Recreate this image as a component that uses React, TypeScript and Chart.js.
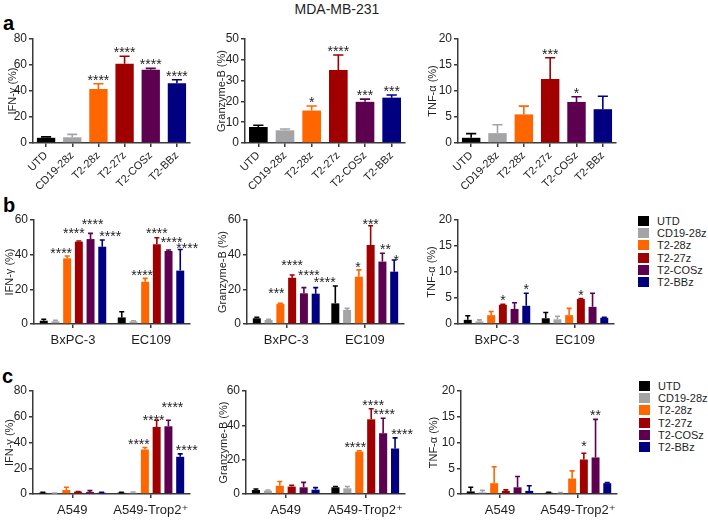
import React, { useEffect, useRef } from 'react';
import { Chart, registerables } from 'chart.js';

Chart.register(...registerables);

const FONT = '"Liberation Sans", Arial, Helvetica, "DejaVu Sans", sans-serif';
const INK = '#1e1e1e';
const AXIS = '#3a3a3a';

// ---------- shared series ----------
const SERIES = ['UTD', 'CD19-28z', 'T2-28z', 'T2-27z', 'T2-COSz', 'T2-BBz'];
const COLORS = ['#000000', '#a4a4a6', '#ff6600', '#a10000', '#5e0050', '#000080'];

// ---------- panel a (MDA-MB-231), one value per series ----------
const A_IFN_MEAN = [4.0, 4.4, 41.5, 61.0, 56.4, 46.0];
const A_IFN_SD = [0.7, 2.2, 4.1, 5.7, 1.0, 2.7];
const A_IFN_STARS = ['', '', '****', '****', '****', '****'];

const A_GZB_MEAN = [7.7, 6.1, 15.6, 35.1, 19.8, 21.8];
const A_GZB_SD = [0.8, 0.6, 2.2, 7.2, 1.3, 1.3];
const A_GZB_STARS = ['', '', '*', '****', '***', '***'];

const A_TNF_MEAN = [1.0, 1.9, 5.5, 12.3, 7.9, 6.5];
const A_TNF_SD = [0.8, 1.6, 1.6, 4.1, 1.0, 2.5];
const A_TNF_STARS = ['', '', '', '***', '*', ''];

// ---------- panel b: groups BxPC-3 / EC109, rows = series ----------
const B_GROUPS = ['BxPC-3', 'EC109'];

const B_IFN_MEAN = [[1.9, 3.8], [1.5, 1.5], [37.9, 24.4], [47.5, 46.0], [49.0, 42.1], [44.6, 30.8]];
const B_IFN_SD = [[0.8, 3.3], [0.6, 0.4], [1.3, 1.9], [0.4, 3.8], [3.3, 0.6], [3.9, 12.2]];
const B_IFN_STARS = [['', ''], ['', ''], ['****', '****'], ['****', '****'], ['****', '****'], ['****', '****']];

const B_GZB_MEAN = [[3.3, 11.9], [2.3, 8.1], [11.5, 27.3], [26.7, 45.6], [17.7, 36.0], [17.5, 30.2]];
const B_GZB_SD = [[0.5, 10.0], [0.4, 0.9], [0.4, 3.9], [1.6, 11.1], [3.3, 4.8], [3.5, 6.7]];
const B_GZB_STARS = [['', ''], ['', ''], ['***', '*'], ['****', '***'], ['****', '**'], ['****', '*']];

const B_TNF_MEAN = [[0.8, 1.1], [0.5, 0.9], [1.7, 1.7], [3.7, 4.8], [2.9, 3.3], [3.5, 1.2]];
const B_TNF_SD = [[0.8, 1.1], [0.3, 0.6], [0.7, 1.3], [0.1, 0.1], [1.2, 2.6], [2.4, 0.1]];
const B_TNF_STARS = [['', ''], ['', ''], ['', ''], ['*', '*'], ['', ''], ['*', '']];

// ---------- panel c: groups A549 / A549-Trop2+ ----------
const C_GROUPS = ['A549', 'A549-Trop2\u207A'];

const C_IFN_MEAN = [[1.0, 1.0], [0.5, 1.0], [3.1, 34.6], [1.8, 52.1], [1.5, 52.6], [1.0, 28.9]];
const C_IFN_SD = [[0.3, 0.3], [0.3, 0.5], [2.1, 1.5], [0.2, 5.2], [1.1, 4.7], [0.3, 2.3]];
const C_IFN_STARS = [['', ''], ['', ''], ['', '****'], ['', '****'], ['', '****'], ['', '****']];

const C_GZB_MEAN = [[2.3, 3.9], [1.9, 3.3], [4.8, 24.6], [4.3, 43.5], [3.9, 35.4], [2.5, 26.5]];
const C_GZB_SD = [[0.6, 0.5], [0.4, 1.1], [2.5, 0.5], [0.7, 6.2], [2.9, 8.7], [1.2, 6.2]];
const C_GZB_STARS = [['', ''], ['', ''], ['', '****'], ['', '****'], ['', '****'], ['', '****']];

const C_TNF_MEAN = [[0.5, 0.25], [0.3, 0.2], [2.1, 3.0], [0.6, 6.7], [1.3, 7.1], [0.6, 2.1]];
const C_TNF_SD = [[0.8, 0.1], [0.4, 0.1], [3.2, 1.5], [0.2, 1.2], [2.1, 7.4], [1.0, 0.1]];
const C_TNF_STARS = [['', ''], ['', ''], ['', ''], ['', '*'], ['', '**'], ['', '']];

// ---------- layout: pixel nudges for crowded significance labels [dx, dy] ----------
type Nudge = [number, number][][];
const Z: [number, number] = [0, 0];
const NUDGE_B_IFN: Nudge = [[Z, Z], [Z, Z], [[-6, 1], [-3, 1]], [[-5, -4], [0, -1]], [[2, -5], [3, -4]], [[8, 0], [7, 2.5]]];
const NUDGE_B_GZB: Nudge = [[Z, Z], [Z, Z], [[-4, -6], [-1, 1]], [[0, -6], [0, 2]], [[5, -9], [3, 0]], [[9, -1.5], [2, 3.5]]];
const NUDGE_C_IFN: Nudge = [[Z, Z], [Z, Z], [Z, [-6, 0]], [Z, [-3, 3.5]], [Z, [4, -9]], [Z, [6.5, 0]]];
const NUDGE_C_GZB: Nudge = [[Z, Z], [Z, Z], [Z, [-4, 0]], [Z, [2, 0]], [Z, [1, 0]], [Z, [7, 0]]];
const NUDGE_C_TNF: Nudge = [[Z, Z], [Z, Z], [Z, Z], [Z, [0, -3]], [Z, Z], [Z, Z]];

type Box = { x: number; y: number; w: number; h: number };
type Plot = { left: number; top: number; right: number; bottom: number };

type PanelProps = {
  box: Box;
  plot: Plot;
  titleCenter: number;
  yTitle: string;
  yMax: number;
  yStep: number;
  labels: string[];
  means: number[][];
  sds: number[][];
  stars: string[][];
  perCategoryColors: boolean;
  nudge?: Nudge;
};

function BarPanel(p: PanelProps) {
  const ref = useRef<HTMLCanvasElement | null>(null);
  useEffect(() => {
    if (!ref.current) return;
    const { box, plot } = p;
    const yWidth = plot.left - box.x;
    const xHeight = box.y + box.h - plot.bottom;
    const padTop = plot.top - box.y;
    const padRight = box.x + box.w - plot.right;
    const titleLH = 11 * 1.2;
    const titlePad = p.titleCenter - box.x - titleLH / 2;

    const datasets = p.perCategoryColors
      ? [{
          label: 'values',
          data: p.means[0],
          backgroundColor: COLORS,
          barPercentage: 0.7,
          categoryPercentage: 1.0,
        }]
      : p.means.map((m, i) => ({
          label: SERIES[i],
          data: m,
          backgroundColor: COLORS[i],
          barPercentage: 0.68,
          categoryPercentage: 0.9,
        }));

    const sds = p.sds;
    const stars = p.stars;
    const nudge = p.nudge;

    const errPlugin = {
      id: 'errAndStars',
      afterDatasetsDraw(chart: any) {
        const ctx = chart.ctx;
        const ys = chart.scales.y;
        chart.data.datasets.forEach((ds: any, i: number) => {
          const meta = chart.getDatasetMeta(i);
          meta.data.forEach((el: any, j: number) => {
            const mean = ds.data[j];
            const sd = sds[i][j];
            const top = ys.getPixelForValue(mean + sd);
            const col = Array.isArray(ds.backgroundColor) ? ds.backgroundColor[j] : ds.backgroundColor;
            const cap = Math.max(5, el.width * 0.55);
            ctx.save();
            ctx.strokeStyle = col;
            ctx.lineWidth = 1.6;
            ctx.beginPath();
            ctx.moveTo(el.x, el.y);
            ctx.lineTo(el.x, top);
            ctx.moveTo(el.x - cap / 2, top);
            ctx.lineTo(el.x + cap / 2, top);
            ctx.stroke();
            const s = stars[i][j];
            if (s) {
              const [dx, dy] = nudge ? nudge[i][j] : [0, 0];
              ctx.fillStyle = INK;
              ctx.font = `14px ${FONT}`;
              ctx.textAlign = 'center';
              ctx.textBaseline = 'alphabetic';
              ctx.fillText(s, el.x + dx, top + 1 + dy);
            }
            ctx.restore();
          });
        });
      },
    };

    const rotated = p.perCategoryColors;

    const chart = new Chart(ref.current, {
      type: 'bar',
      data: { labels: p.labels, datasets },
      options: {
        animation: false,
        responsive: false,
        devicePixelRatio: 1,
        layout: { padding: { top: padTop, right: padRight, left: 0, bottom: 0 } },
        plugins: { legend: { display: false }, tooltip: { enabled: false }, title: { display: false } },
        scales: {
          x: {
            grid: { display: true, drawOnChartArea: false, drawTicks: true, tickLength: 4, color: AXIS, lineWidth: 1.5, offset: false },
            border: { display: true, color: AXIS, width: 1.5 },
            ticks: {
              color: INK,
              autoSkip: false,
              font: { family: FONT, size: rotated ? 11 : 13 },
              minRotation: rotated ? 45 : 0,
              maxRotation: rotated ? 45 : 0,
              padding: rotated ? 2 : 5,
            },
            afterFit: (s: any) => {
              s.height = xHeight;
              s.paddingLeft = 0;
              s.paddingRight = 0;
            },
          },
          y: {
            min: 0,
            max: p.yMax,
            grid: { display: true, drawOnChartArea: false, drawTicks: true, tickLength: 4, color: AXIS, lineWidth: 1.5 },
            border: { display: true, color: AXIS, width: 1.5 },
            ticks: { stepSize: p.yStep, color: INK, font: { family: FONT, size: 12 }, padding: 2 },
            title: {
              display: true,
              text: p.yTitle,
              color: INK,
              font: { family: FONT, size: 11 },
              padding: { top: titlePad, bottom: 0 },
            },
            afterFit: (s: any) => {
              s.width = yWidth;
              s.paddingTop = 0;
              s.paddingBottom = 0;
            },
          },
        },
      },
      plugins: [errPlugin],
    } as any);
    return () => chart.destroy();
  }, []);

  const { box } = p;
  return (
    <canvas
      ref={ref}
      width={box.w}
      height={box.h}
      style={{ position: 'absolute', left: box.x, top: box.y, width: box.w, height: box.h }}
    />
  );
}

function Legend({ x, y }: { x: number; y: number }) {
  const rowH = 12.2;
  return (
    <>
      {SERIES.map((s, i) => (
        <div
          key={s}
          style={{
            position: 'absolute',
            left: x,
            top: y + i * rowH,
            height: rowH,
            display: 'flex',
            alignItems: 'center',
            fontSize: 11,
            lineHeight: '12px',
            color: INK,
            whiteSpace: 'nowrap',
          }}
        >
          <span style={{ display: 'inline-block', width: 11, height: 10, background: COLORS[i] }} />
          <span style={{ marginLeft: 8 }}>{s}</span>
        </div>
      ))}
    </>
  );
}

function Letter({ t, x, y }: { t: string; x: number; y: number }) {
  return (
    <div style={{ position: 'absolute', left: x, top: y, fontSize: 20, lineHeight: '20px', fontWeight: 'bold', color: '#000' }}>
      {t}
    </div>
  );
}

const rowA = { y: 28, h: 167, top: 39, bottom: 143 };
const rowB = { y: 200, h: 155, top: 220, bottom: 324 };
const rowC = { y: 370, h: 150, top: 391, bottom: 494 };

export default function App() {
  const toRows = (a: number[]) => [a];
  const toRowsS = (a: string[]) => [a];
  return (
    <div style={{ position: 'absolute', left: 0, top: 0, width: 708, height: 520, background: '#fff', fontFamily: FONT, overflow: 'hidden' }}>
      <div style={{ position: 'absolute', left: 237, top: 2, width: 200, textAlign: 'center', fontSize: 14, lineHeight: '14px', color: INK }}>
        MDA-MB-231
      </div>
      <Letter t="a" x={3} y={13} />
      <Letter t="b" x={3} y={195} />
      <Letter t="c" x={2} y={366} />

      {/* row a */}
      <BarPanel box={{ x: 0, y: rowA.y, w: 200, h: rowA.h }} plot={{ left: 33, top: rowA.top, right: 190, bottom: rowA.bottom }}
        titleCenter={13} yTitle="IFN-γ (%)" yMax={80} yStep={20} labels={SERIES}
        means={toRows(A_IFN_MEAN)} sds={toRows(A_IFN_SD)} stars={toRowsS(A_IFN_STARS)} perCategoryColors />
      <BarPanel box={{ x: 205, y: rowA.y, w: 208, h: rowA.h }} plot={{ left: 245, top: rowA.top, right: 405, bottom: rowA.bottom }}
        titleCenter={222} yTitle="Granzyme-B (%)" yMax={50} yStep={10} labels={SERIES}
        means={toRows(A_GZB_MEAN)} sds={toRows(A_GZB_SD)} stars={toRowsS(A_GZB_STARS)} perCategoryColors />
      <BarPanel box={{ x: 418, y: rowA.y, w: 208, h: rowA.h }} plot={{ left: 458, top: rowA.top, right: 616, bottom: rowA.bottom }}
        titleCenter={433} yTitle="TNF-α (%)" yMax={20} yStep={5} labels={SERIES}
        means={toRows(A_TNF_MEAN)} sds={toRows(A_TNF_SD)} stars={toRowsS(A_TNF_STARS)} perCategoryColors />

      {/* row b */}
      <BarPanel box={{ x: 0, y: rowB.y, w: 200, h: rowB.h }} plot={{ left: 34, top: rowB.top, right: 190, bottom: rowB.bottom }}
        titleCenter={9.5} yTitle="IFN-γ (%)" yMax={60} yStep={20} labels={B_GROUPS}
        means={B_IFN_MEAN} sds={B_IFN_SD} stars={B_IFN_STARS} perCategoryColors={false} nudge={NUDGE_B_IFN} />
      <BarPanel box={{ x: 205, y: rowB.y, w: 208, h: rowB.h }} plot={{ left: 247, top: rowB.top, right: 404, bottom: rowB.bottom }}
        titleCenter={223} yTitle="Granzyme-B (%)" yMax={60} yStep={20} labels={B_GROUPS}
        means={B_GZB_MEAN} sds={B_GZB_SD} stars={B_GZB_STARS} perCategoryColors={false} nudge={NUDGE_B_GZB} />
      <BarPanel box={{ x: 418, y: rowB.y, w: 208, h: rowB.h }} plot={{ left: 458, top: rowB.top, right: 614, bottom: rowB.bottom }}
        titleCenter={432} yTitle="TNF-α (%)" yMax={20} yStep={5} labels={B_GROUPS}
        means={B_TNF_MEAN} sds={B_TNF_SD} stars={B_TNF_STARS} perCategoryColors={false} />
      <Legend x={638} y={215} />

      {/* row c */}
      <BarPanel box={{ x: 0, y: rowC.y, w: 200, h: rowC.h }} plot={{ left: 33, top: rowC.top, right: 190, bottom: rowC.bottom }}
        titleCenter={9.5} yTitle="IFN-γ (%)" yMax={80} yStep={20} labels={C_GROUPS}
        means={C_IFN_MEAN} sds={C_IFN_SD} stars={C_IFN_STARS} perCategoryColors={false} nudge={NUDGE_C_IFN} />
      <BarPanel box={{ x: 205, y: rowC.y, w: 208, h: rowC.h }} plot={{ left: 246, top: rowC.top, right: 405, bottom: rowC.bottom }}
        titleCenter={224} yTitle="Granzyme-B (%)" yMax={60} yStep={20} labels={C_GROUPS}
        means={C_GZB_MEAN} sds={C_GZB_SD} stars={C_GZB_STARS} perCategoryColors={false} nudge={NUDGE_C_GZB} />
      <BarPanel box={{ x: 418, y: rowC.y, w: 208, h: rowC.h }} plot={{ left: 461, top: rowC.top, right: 617, bottom: rowC.bottom }}
        titleCenter={434} yTitle="TNF-α (%)" yMax={20} yStep={5} labels={C_GROUPS}
        means={C_TNF_MEAN} sds={C_TNF_SD} stars={C_TNF_STARS} perCategoryColors={false} nudge={NUDGE_C_TNF} />
      <Legend x={639} y={380} />
    </div>
  );
}
